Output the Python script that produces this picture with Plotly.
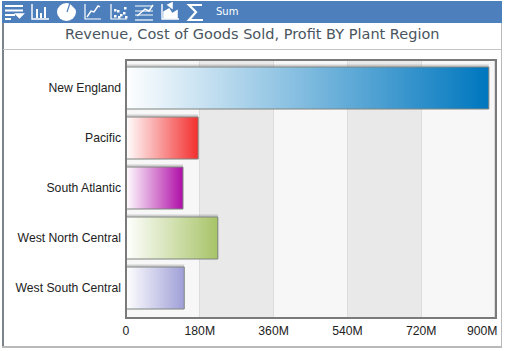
import plotly.graph_objects as go

# ---- data ----
regions = ["New England", "Pacific", "South Atlantic", "West North Central", "West South Central"]
values_m = [885, 176, 139, 224, 142]
end_colors = [(0, 119, 191), (243, 48, 48), (176, 16, 168), (168, 196, 104), (160, 160, 216)]
tick_vals = [0, 180, 360, 540, 720]
tick_text = ["0", "180M", "360M", "540M", "720M"]
last_tick_val = 900
last_tick_text = "900M"
band_starts = [180, 540]
band_width = 180
title_text = "Revenue, Cost of Goods Sold, Profit BY Plant Region"
toolbar_label = "Sum"

W, H = 506, 351
PL, PR, PT, PB = 126, 496, 60, 318
STEPS = 120
XMAX = 902.5
BAR_W = 0.84


def mix(c, t):
    return "rgb(%d,%d,%d)" % tuple(round(255 + (a - 255) * t) for a in c)


def px(x):
    return x / W


def py(y):
    return 1 - y / H


fig = go.Figure()

# soft shadow, behind the bars
fig.add_bar(
    y=regions, x=[v + 6 for v in values_m], base=[-6] * 5, orientation="h",
    offset=-0.47, width=0.89, marker=dict(color="rgba(110,110,110,0.28)", line_width=0),
    hoverinfo="skip", cliponaxis=False,
)

# horizontal white-to-colour gradient, painted as nested bars from long to short
for k in range(STEPS, 0, -1):
    f = k / STEPS
    fig.add_bar(
        y=regions, x=[v * f for v in values_m], orientation="h", width=BAR_W,
        marker=dict(color=[mix(c, f) for c in end_colors], line_width=0),
        hoverinfo="skip",
    )

# outline
fig.add_bar(
    y=regions, x=values_m, orientation="h", width=BAR_W,
    marker=dict(color="rgba(0,0,0,0)", line=dict(color="#7f8580", width=1)),
    hoverinfo="skip",
)

shapes = []


def rect(x0, y0, x1, y1, fill, layer="above"):
    shapes.append(dict(type="rect", xref="paper", yref="paper", x0=px(x0), x1=px(x1), y0=py(y0), y1=py(y1),
                       fillcolor=fill, line_width=0, layer=layer))


def poly(points, color="white", width=1.6, fill=None, close=False):
    d = "M" + " L".join(f"{px(x):.5f},{py(y):.5f}" for x, y in points) + (" Z" if close else "")
    shapes.append(dict(type="path", xref="paper", yref="paper", path=d, layer="above",
                       line=dict(color=color, width=width), fillcolor=fill))


# alternating bands
for s in band_starts:
    shapes.append(dict(type="rect", xref="x", yref="paper", x0=s, x1=s + band_width, y0=py(PB), y1=py(PT),
                       fillcolor="#e9e9e9", line_width=0, layer="below"))

# page frame
rect(2, 22, 4, 347, "#7b8489")
rect(2, 346, 502, 348, "#b9b9b9")
rect(501, 22, 502, 348, "#b9b9b9")
rect(3, 49, 502, 50, "#c4c4c4")
rect(2, 1, 502, 23, "#4d7fbc")

# plot frame
for a in [(PL - 1, PT - 1, PR + 1, PT + 1), (PL - 1, PB - 1, PR + 1, PB + 1),
          (PL - 1, PT - 1, PL + 1, PB + 1), (PR - 1, PT - 1, PR + 1, PB + 1)]:
    rect(*a, "#7a7a7a")

# toolbar icons
for y, x1 in [(5, 23), (9.5, 23), (14, 15), (18, 11)]:
    rect(5, y, x1, y + 2, "white")
poly([(16, 14), (23, 14), (19.5, 17.5)], fill="white", close=True)
poly([(32, 4), (32, 19), (49, 19)], width=1.4)
for x, top in [(36, 9), (40, 13), (44, 7)]:
    rect(x, top, x + 2, 18, "white")
shapes.append(dict(type="circle", xref="paper", yref="paper", x0=px(57), x1=px(76), y0=py(21), y1=py(3),
                   fillcolor="white", line_width=0, layer="above"))
poly([(67, 12), (70, 3), (76, 9)], color="#4d7fbc", width=1.2)
poly([(85, 4), (85, 19), (101, 19)], width=1.2)
poly([(87, 17), (91, 11), (94, 12), (98, 6), (100, 7)], width=1.4)
poly([(111, 4), (111, 19), (127, 19)], width=1.2)
for x, y in [(114, 15), (117, 10), (120, 14), (124, 7), (114, 9), (123, 12), (118, 16), (125, 16)]:
    rect(x, y, x + 2.5, y + 2.5, "white")
poly([(135, 6), (153, 6)], width=1)
poly([(135, 11), (153, 11)], width=1)
poly([(135, 15), (153, 15)], width=1)
poly([(135, 20), (153, 20)], width=1.2)
poly([(137, 16), (145, 9), (149, 11), (153, 5)], width=1.4)
poly([(162, 4), (162, 19), (179, 19)], width=1.4)
poly([(164, 18), (164, 12), (169, 9), (172, 14), (177, 11), (177, 18)], fill="white", close=True)
poly([(168, 5), (172, 3), (172, 8)], fill="white", close=True)
poly([(202, 5), (189, 5), (196, 12), (189, 20), (203, 20)], width=2.2)

annotations = [
    dict(text=title_text, xref="paper", yref="paper", x=px(252.5), y=py(34), showarrow=False,
         font=dict(family="DejaVu Sans", size=14.5, color="#4a5560"), xanchor="center", yanchor="middle"),
    dict(text=toolbar_label, xref="paper", yref="paper", x=px(214), y=py(11.5), showarrow=False,
         font=dict(family="DejaVu Sans", size=10, color="white"), xanchor="left", yanchor="middle"),
    dict(text=last_tick_text, xref="x", yref="paper", x=last_tick_val, xshift=-12, y=py(331), showarrow=False,
         font=dict(family="Liberation Sans", size=12.2, color="#222222"), xanchor="center", yanchor="middle"),
]

fig.update_layout(
    width=W, height=H, margin=dict(l=0, r=0, t=0, b=0, pad=0, autoexpand=False),
    barmode="overlay", bargap=0.16, showlegend=False,
    paper_bgcolor="white", plot_bgcolor="#f7f7f7",
    shapes=shapes, annotations=annotations,
    font=dict(family="Liberation Sans", size=12.2, color="#222222"),
    xaxis=dict(domain=[px(PL), px(PR)], range=[0, XMAX], tickmode="array", tickvals=tick_vals + [last_tick_val],
               ticktext=tick_text + [""], showgrid=True, gridcolor="#dcdcdc", gridwidth=1, zeroline=False,
               showline=False, ticks="", ticklabelstandoff=4, anchor="y"),
    yaxis=dict(domain=[py(PB), py(PT)], range=[4.6, -0.56], type="category", categoryorder="array",
               categoryarray=regions, showgrid=False, zeroline=False, showline=False, ticks="",
               ticklabelstandoff=4, anchor="x"),
)

fig.write_html("out.html", config=dict(displayModeBar=False),
               post_script="document.body.style.margin='0';")
